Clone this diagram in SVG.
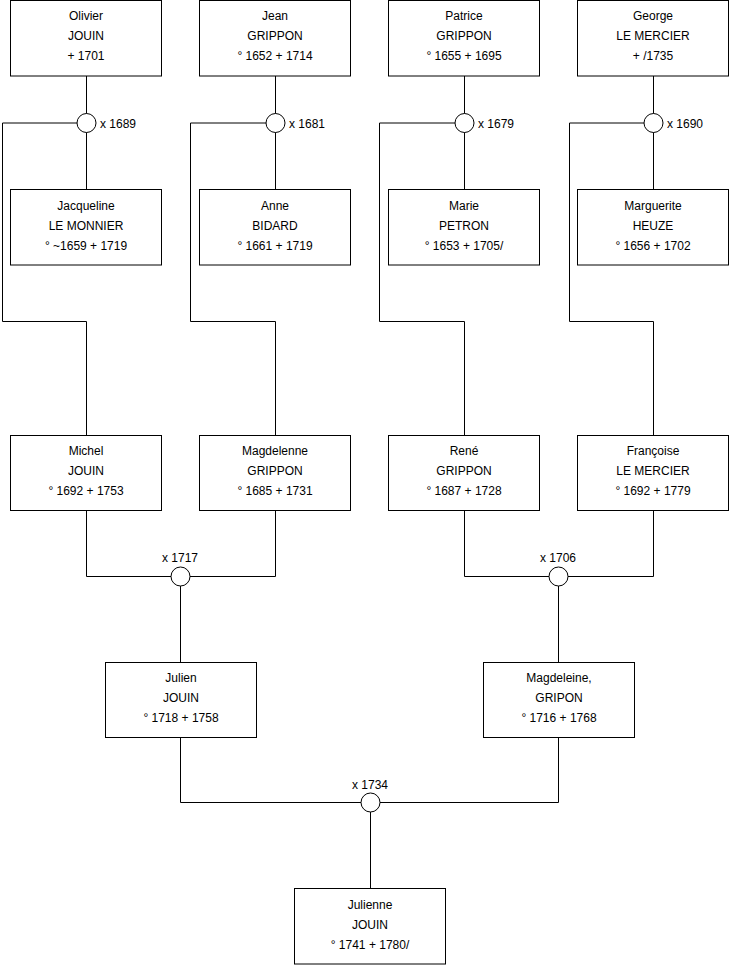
<svg xmlns="http://www.w3.org/2000/svg" width="740" height="975" viewBox="0 0 740 975">
<style>
.box{fill:#fff;stroke:#000;stroke-width:1}
.c{fill:#fff;stroke:#000;stroke-width:1}
.ln{fill:none;stroke:#000;stroke-width:1}
text{font-family:"Liberation Sans",Arial,sans-serif;font-size:12px;fill:#000}
.m{text-anchor:middle}
</style>
<rect width="740" height="975" fill="#fff"/>
<g id="connectors">
<path class="ln" d="M86.5 76V189M2.5 123H86.5M2.5 123V321.5H86.5V435"/>
<path class="ln" d="M275.5 76V189M190.5 123H275.5M190.5 123V321.5H275.5V435"/>
<path class="ln" d="M464.5 76V189M379.5 123H464.5M379.5 123V321.5H464.5V435"/>
<path class="ln" d="M653.5 76V189M569.5 123H653.5M569.5 123V321.5H653.5V435"/>
<path class="ln" d="M86.5 510V576.5H275.5V510M180.5 576.5V662"/>
<path class="ln" d="M464.5 510V576.5H653.5V510M558.5 576.5V662"/>
<path class="ln" d="M180.5 737V802.5H558.5V737M370.5 802.5V888"/>
<circle class="c" cx="86.5" cy="123" r="9.5"/>
<circle class="c" cx="275.5" cy="123" r="9.5"/>
<circle class="c" cx="464.5" cy="123" r="9.5"/>
<circle class="c" cx="653.5" cy="123" r="9.5"/>
<circle class="c" cx="180.5" cy="576.5" r="9.5"/>
<circle class="c" cx="558.5" cy="576.5" r="9.5"/>
<circle class="c" cx="370.5" cy="802.5" r="9.5"/>
<text x="100" y="128">x 1689</text>
<text x="289" y="128">x 1681</text>
<text x="478" y="128">x 1679</text>
<text x="667" y="128">x 1690</text>
<text class="m" x="180" y="562">x 1717</text>
<text class="m" x="558" y="562">x 1706</text>
<text class="m" x="370" y="789">x 1734</text>
</g>
<g id="olivier"><rect class="box" x="10.5" y="0.5" width="151" height="75.5"/><text class="m" x="86" y="20">Olivier</text><text class="m" x="86" y="40">JOUIN</text><text class="m" x="86" y="60">+ 1701</text></g>
<g id="jean"><rect class="box" x="199.5" y="0.5" width="151" height="75.5"/><text class="m" x="275" y="20">Jean</text><text class="m" x="275" y="40">GRIPPON</text><text class="m" x="275" y="60">° 1652 + 1714</text></g>
<g id="patrice"><rect class="box" x="388.5" y="0.5" width="151" height="75.5"/><text class="m" x="464" y="20">Patrice</text><text class="m" x="464" y="40">GRIPPON</text><text class="m" x="464" y="60">° 1655 + 1695</text></g>
<g id="george"><rect class="box" x="577.5" y="0.5" width="151" height="75.5"/><text class="m" x="653" y="20">George</text><text class="m" x="653" y="40">LE MERCIER</text><text class="m" x="653" y="60">+ /1735</text></g>
<g id="jacqueline"><rect class="box" x="10.5" y="189.5" width="151" height="75.5"/><text class="m" x="86" y="210">Jacqueline</text><text class="m" x="86" y="230">LE MONNIER</text><text class="m" x="86" y="250">° ~1659 + 1719</text></g>
<g id="anne"><rect class="box" x="199.5" y="189.5" width="151" height="75.5"/><text class="m" x="275" y="210">Anne</text><text class="m" x="275" y="230">BIDARD</text><text class="m" x="275" y="250">° 1661 + 1719</text></g>
<g id="marie"><rect class="box" x="388.5" y="189.5" width="151" height="75.5"/><text class="m" x="464" y="210">Marie</text><text class="m" x="464" y="230">PETRON</text><text class="m" x="464" y="250">° 1653 + 1705/</text></g>
<g id="marguerite"><rect class="box" x="577.5" y="189.5" width="151" height="75.5"/><text class="m" x="653" y="210">Marguerite</text><text class="m" x="653" y="230">HEUZE</text><text class="m" x="653" y="250">° 1656 + 1702</text></g>
<g id="michel"><rect class="box" x="10.5" y="435.5" width="151" height="75"/><text class="m" x="86" y="455">Michel</text><text class="m" x="86" y="475">JOUIN</text><text class="m" x="86" y="495">° 1692 + 1753</text></g>
<g id="magdelenne"><rect class="box" x="199.5" y="435.5" width="151" height="75"/><text class="m" x="275" y="455">Magdelenne</text><text class="m" x="275" y="475">GRIPPON</text><text class="m" x="275" y="495">° 1685 + 1731</text></g>
<g id="rene"><rect class="box" x="388.5" y="435.5" width="151" height="75"/><text class="m" x="464" y="455">René</text><text class="m" x="464" y="475">GRIPPON</text><text class="m" x="464" y="495">° 1687 + 1728</text></g>
<g id="francoise"><rect class="box" x="577.5" y="435.5" width="151" height="75"/><text class="m" x="653" y="455">Françoise</text><text class="m" x="653" y="475">LE MERCIER</text><text class="m" x="653" y="495">° 1692 + 1779</text></g>
<g id="julien"><rect class="box" x="105.5" y="662.5" width="151" height="75"/><text class="m" x="181" y="682">Julien</text><text class="m" x="181" y="702">JOUIN</text><text class="m" x="181" y="722">° 1718 + 1758</text></g>
<g id="magdeleine"><rect class="box" x="483.5" y="662.5" width="151" height="75"/><text class="m" x="559" y="682">Magdeleine,</text><text class="m" x="559" y="702">GRIPON</text><text class="m" x="559" y="722">° 1716 + 1768</text></g>
<g id="julienne"><rect class="box" x="294.5" y="888.5" width="151" height="75.5"/><text class="m" x="370" y="909">Julienne</text><text class="m" x="370" y="929">JOUIN</text><text class="m" x="370" y="949">° 1741 + 1780/</text></g>
</svg>
